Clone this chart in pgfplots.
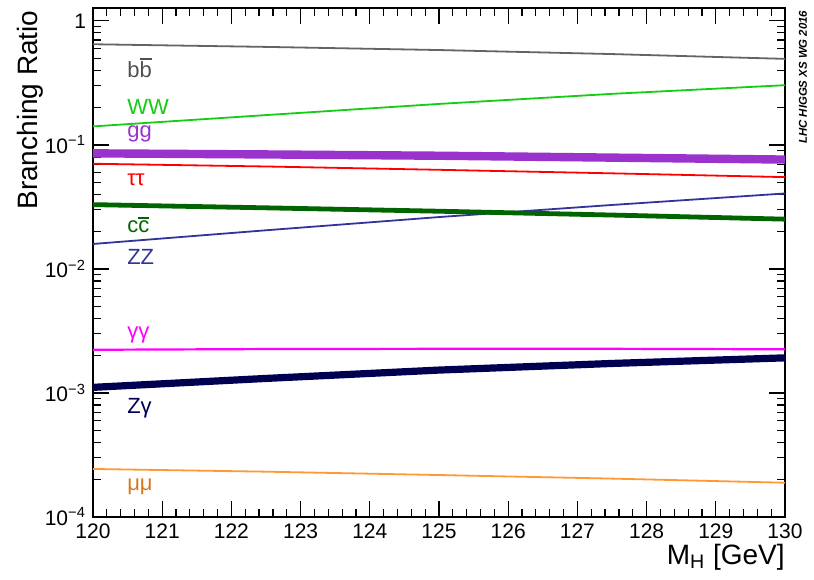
\documentclass[border=0pt]{standalone}
\usepackage{pgfplots}
\pgfplotsset{compat=1.18}
\usepackage{fontspec}
\setmainfont{Liberation Sans}
\newcommand\ob[1]{\vbox{\hrule height 0.6pt\kern0.9pt\hbox{#1}}}
\definecolor{cbb}{RGB}{100,100,100}
\definecolor{cbbl}{RGB}{80,80,80}
\definecolor{cww}{RGB}{20,205,20}
\definecolor{cgg}{RGB}{153,51,204}
\definecolor{ctt}{RGB}{255,0,0}
\definecolor{ccc}{RGB}{0,100,0}
\definecolor{czz}{RGB}{51,51,153}
\definecolor{cyy}{RGB}{255,0,255}
\definecolor{czy}{RGB}{0,0,80}
\definecolor{cmm}{RGB}{255,153,51}
\definecolor{cmml}{RGB}{215,120,30}
\begin{document}
\begin{tikzpicture}
\begin{axis}[name=ax, scale only axis, width=346pt, height=254.5pt,
  xmin=120, xmax=130, ymode=log, ymin=1e-4, ymax=1.27,
  xtick={120,121,...,130}, minor x tick num=4,
  ytick={1e-4,1e-3,1e-2,1e-1,1},
  yticklabels={10\textsuperscript{−4},10\textsuperscript{−3},10\textsuperscript{−2},10\textsuperscript{−1},1},
  /pgf/number format/assume math mode=true,
  /pgf/number format/set thousands separator={},
  ticklabel style={font=\fontsize{10.5}{12}\selectfont},
  tick align=inside, major tick length=8pt, minor tick length=4pt,
  axis line style={line width=0.8pt}, tick style={black, line width=0.6pt},
  clip mode=individual,
  every axis plot/.append style={line cap=butt},
]
\addplot[cbb, line width=0.9pt] coordinates {(120,0.648) (122.5,0.617) (125,0.582) (127.5,0.540) (130,0.494)};
\addplot[cww, line width=0.9pt] coordinates {(120,0.141) (122.5,0.174) (125,0.214) (127.5,0.258) (130,0.303)};
\addplot[cgg, line width=4.2pt] coordinates {(120,0.0855) (122.5,0.0838) (125,0.0818) (127.5,0.0790) (130,0.0762)};
\addplot[ctt, line width=0.9pt] coordinates {(120,0.0705) (122.5,0.0670) (125,0.0630) (127.5,0.0590) (130,0.0550)};
\addplot[czz, line width=0.9pt] coordinates {(120,0.0159) (122.5,0.0205) (125,0.0262) (127.5,0.0328) (130,0.0406)};
\addplot[ccc, line width=2.4pt] coordinates {(120,0.0330) (122.5,0.0311) (125,0.0292) (127.5,0.0272) (130,0.0252)};
\addplot[cyy, line width=1.1pt] coordinates {(120,0.00223) (122.5,0.00226) (125,0.00227) (127.5,0.00227) (130,0.00225)};
\addplot[czy, line width=3.6pt] coordinates {(120,0.00111) (122.5,0.00131) (125,0.00153) (127.5,0.00173) (130,0.00192)};
\addplot[cmm, line width=0.9pt] coordinates {(120,0.000244) (122.5,0.000232) (125,0.000218) (127.5,0.000204) (130,0.000189)};
\begin{scope}[every node/.style={anchor=west, font=\fontsize{11}{13}\selectfont, inner sep=0pt}]
\node[text=cbbl] at (rel axis cs:0.049,0.882) {b\ob{b}};
\node[text=cww] at (rel axis cs:0.049,0.806) {WW};
\node[text=cgg] at (rel axis cs:0.049,0.752) {gg};
\node[text=ctt] at (rel axis cs:0.049,0.662) {ττ};
\node[text=ccc] at (rel axis cs:0.049,0.574) {c\ob{c}};
\node[text=czz] at (rel axis cs:0.049,0.511) {ZZ};
\node[text=cyy] at (rel axis cs:0.049,0.358) {γγ};
\node[text=czy] at (rel axis cs:0.049,0.214) {Zγ};
\node[text=cmml] at (rel axis cs:0.049,0.059) {μμ};
\end{scope}
\node[rotate=90, font=\bfseries\itshape\fontsize{5.7}{7}\selectfont] at (rel axis cs:1.026,0.864) {LHC HIGGS XS WG 2016};
\node[rotate=90, anchor=east, font=\fontsize{14}{16}\selectfont, inner sep=0pt] at (rel axis cs:-0.091,0.996) {Branching Ratio};
\node[anchor=north east, font=\fontsize{14}{16}\selectfont, inner sep=0pt] at (rel axis cs:1,-0.053) {M\textsubscript{H} [GeV]};
\end{axis}
\pgfresetboundingbox
\path[use as bounding box] ([shift={(-46.5pt,-31pt)}]ax.south west) rectangle ([shift={(14.5pt,4pt)}]ax.north east);
\end{tikzpicture}
\end{document}
